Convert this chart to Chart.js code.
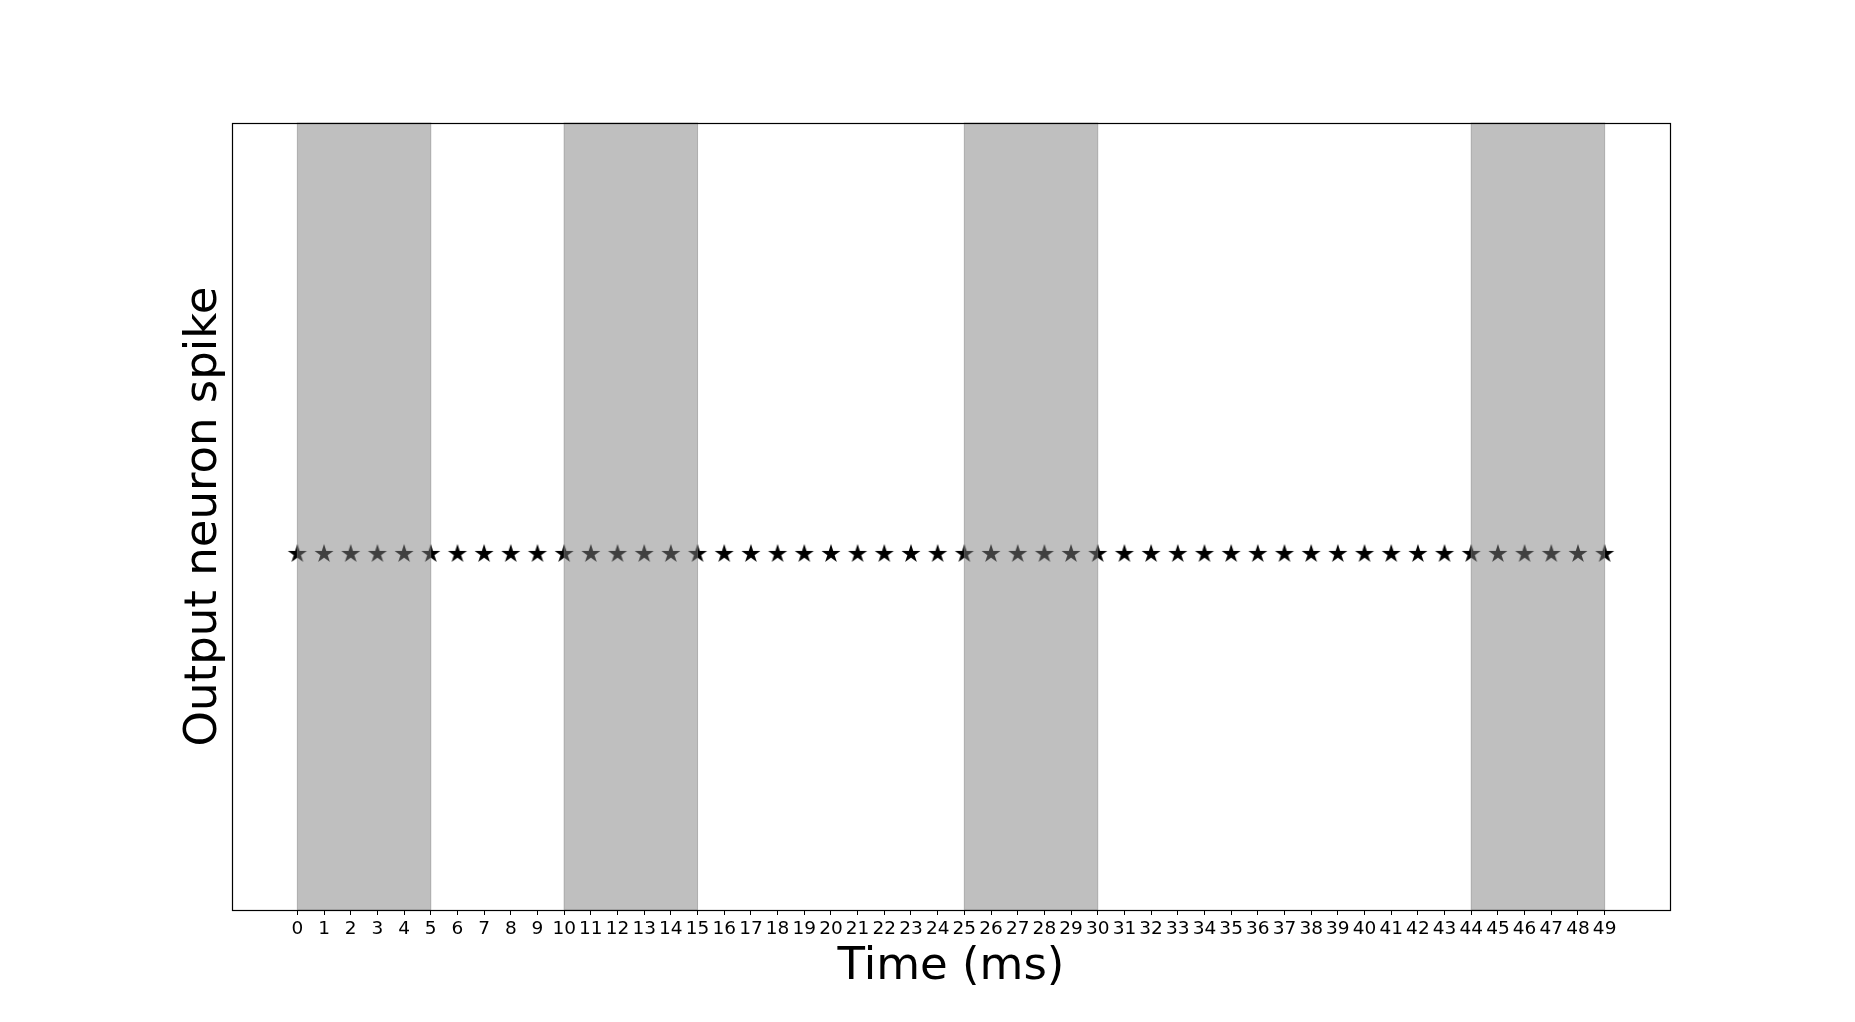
<!DOCTYPE html>
<html><head><meta charset="utf-8">
<script src="https://cdn.jsdelivr.net/npm/chart.js@4.4.0/dist/chart.umd.min.js"></script>
<style>html,body{margin:0;padding:0;background:#fff;overflow:hidden}</style>
</head><body>
<canvas id="c" width="1855" height="1022"></canvas>
<script>
const timeTicks = [0,1,2,3,4,5,6,7,8,9,10,11,12,13,14,15,16,17,18,19,20,21,22,23,24,25,26,27,28,29,30,31,32,33,34,35,36,37,38,39,40,41,42,43,44,45,46,47,48,49];
const spikeTimes = [0,1,2,3,4,5,6,7,8,9,10,11,12,13,14,15,16,17,18,19,20,21,22,23,24,25,26,27,28,29,30,31,32,33,34,35,36,37,38,39,40,41,42,43,44,45,46,47,48,49];
const spikeValues = [1,1,1,1,1,1,1,1,1,1,1,1,1,1,1,1,1,1,1,1,1,1,1,1,1,1,1,1,1,1,1,1,1,1,1,1,1,1,1,1,1,1,1,1,1,1,1,1,1,1];
const shadedStarts = [0,10,25,44];
const shadedEnds = [5,15,30,49];
const xLabel = 'Time (ms)';
const yLabel = 'Output neuron spike';

function makeStar(R){
  const size = Math.ceil(2*R+4);
  const cv = document.createElement('canvas');
  cv.width = size; cv.height = size;
  const g = cv.getContext('2d');
  const cx = size/2, cy = size/2, r = R*0.381966;
  g.beginPath();
  for (let i=0;i<10;i++){
    const rad = (i%2===0)?R:r;
    const a = -Math.PI/2 + i*Math.PI/5;
    const px = cx + rad*Math.cos(a), py = cy + rad*Math.sin(a);
    if(i===0) g.moveTo(px,py); else g.lineTo(px,py);
  }
  g.closePath();
  g.fillStyle = '#000';
  g.fill();
  return cv;
}
const starImg = makeStar(10);

const shadePlugin = {
  id: 'shade',
  afterDatasetsDraw(chart){
    const {ctx, chartArea:a, scales:{x}} = chart;
    ctx.save();
    for (let i=0;i<shadedStarts.length;i++){
      const x0 = x.getPixelForValue(shadedStarts[i]);
      const x1 = x.getPixelForValue(shadedEnds[i]);
      ctx.fillStyle = 'rgba(128,128,128,0.5)';
      ctx.fillRect(x0, a.top, x1-x0, a.bottom-a.top);
      ctx.strokeStyle = 'rgba(128,128,128,0.5)';
      ctx.lineWidth = 1;
      ctx.strokeRect(x0, a.top, x1-x0, a.bottom-a.top);
    }
    ctx.restore();
  },
  afterDraw(chart){
    const {ctx, chartArea:a} = chart;
    ctx.save();
    ctx.strokeStyle = '#000';
    ctx.lineWidth = 1.2;
    ctx.strokeRect(Math.round(a.left)+0.5, Math.round(a.top)+0.5, Math.round(a.right-a.left), Math.round(a.bottom-a.top));
    ctx.restore();
  }
};

new Chart(document.getElementById('c'), {
  type: 'scatter',
  data: {
    datasets: [{
      data: spikeTimes.map((t,i)=>({x:t, y:spikeValues[i]})),
      pointStyle: starImg,
      pointRadius: 10,
      showLine: false
    }]
  },
  options: {
    responsive: false,
    devicePixelRatio: 1,
    animation: false,
    events: [],
    plugins: { legend:{display:false}, tooltip:{enabled:false} },
    layout: { padding: { left: 0, right: 185, top: 123, bottom: 0 } },
    scales: {
      x: {
        type: 'linear',
        min: -2.45, max: 51.45,
        afterBuildTicks(s){ s.ticks = timeTicks.map(v=>({value:v})); },
        afterFit(s){ s.height = 112; },
        grid: { drawOnChartArea:false, drawTicks:true, tickLength:5, color:'#000', lineWidth:1 },
        border: { display:true, color:'#000', width:1 },
        ticks: { autoSkip:false, maxRotation:0, minRotation:0, padding:3, color:'#000',
                 font:{ family:'DejaVu Sans', size:18.5 }, callback:(v)=>String(v) },
        title: { display:true, text:xLabel, color:'#000', font:{family:'DejaVu Sans', size:45}, padding:{top:0,bottom:28} }
      },
      y: {
        min: 0, max: 2.21,
        afterFit(s){ s.width = 232; },
        grid: { display:false },
        border: { display:true, color:'#000', width:1 },
        ticks: { display:false },
        title: { display:true, text:yLabel, color:'#000', font:{family:'DejaVu Sans', size:45}, padding:{top:177,bottom:0} }
      }
    }
  },
  plugins: [shadePlugin]
});
</script>
</body></html>
